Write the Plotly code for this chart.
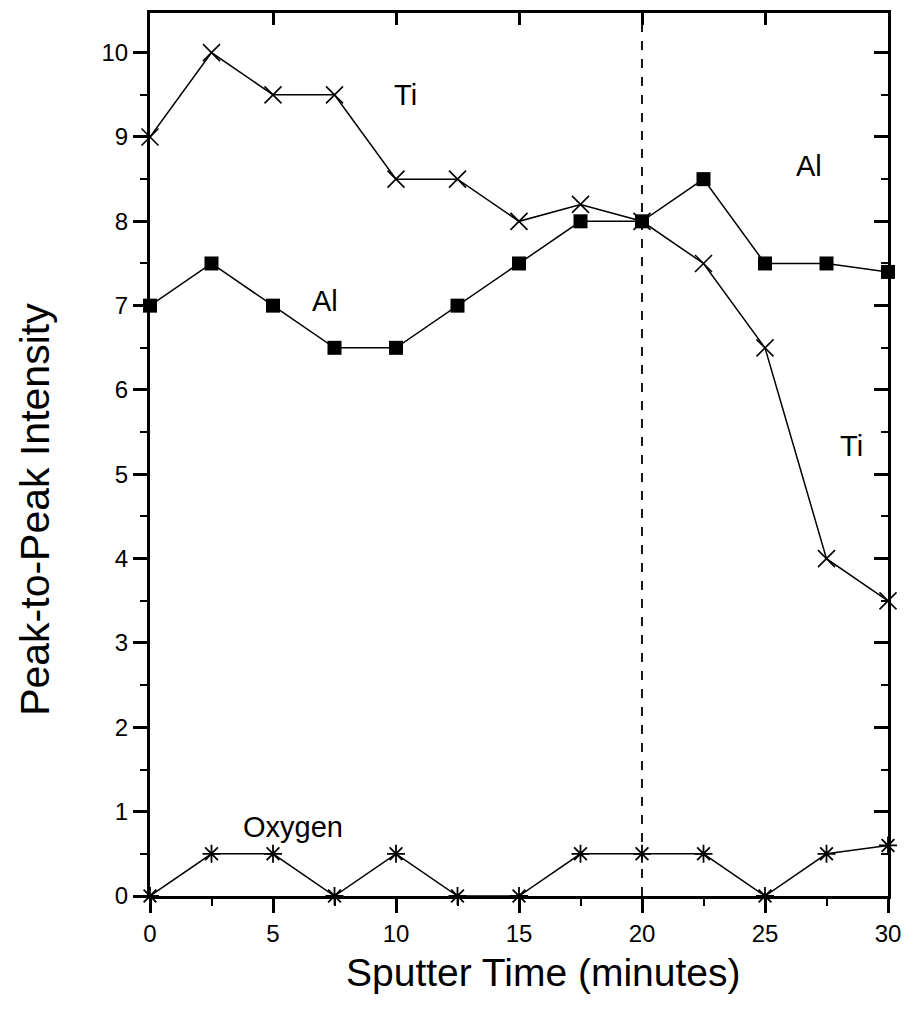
import plotly.graph_objects as go

time = [0, 2.5, 5, 7.5, 10, 12.5, 15, 17.5, 20, 22.5, 25, 27.5, 30]
ti = [9.0, 10.0, 9.5, 9.5, 8.5, 8.5, 8.0, 8.2, 8.0, 7.5, 6.5, 4.0, 3.5]
al = [7.0, 7.5, 7.0, 6.5, 6.5, 7.0, 7.5, 8.0, 8.0, 8.5, 7.5, 7.5, 7.4]
oxygen = [0.0, 0.5, 0.5, 0.0, 0.5, 0.0, 0.0, 0.5, 0.5, 0.5, 0.0, 0.5, 0.6]

labels = [("Ti", 10.4, 9.5), ("Al", 26.8, 8.65), ("Al", 7.1, 7.05),
          ("Ti", 28.5, 5.33), ("Oxygen", 5.8, 0.82)]
divider_x = 20
x_title = "Sputter Time (minutes)"
y_title = "Peak-to-Peak Intensity"

FONT = "Liberation Sans, Arial, Helvetica, sans-serif"
fig = go.Figure()
line = dict(color="black", width=1.5)
fig.add_trace(go.Scatter(x=time, y=ti, mode="lines+markers", line=line, cliponaxis=False,
                         marker=dict(symbol="x-thin-open", size=17, color="black",
                                     line=dict(color="black", width=1.6))))
fig.add_trace(go.Scatter(x=time, y=al, mode="lines+markers", line=line, cliponaxis=False,
                         marker=dict(symbol="square", size=14, color="black")))
fig.add_trace(go.Scatter(x=time, y=oxygen, mode="lines+markers", line=line, cliponaxis=False,
                         marker=dict(symbol="asterisk-open", size=15, color="black",
                                     line=dict(color="black", width=1.8))))

fig.add_shape(type="line", x0=divider_x, x1=divider_x, y0=0, y1=1, yref="paper",
              line=dict(color="black", width=1.8, dash="dash"))

for t, x, y in labels:
    fig.add_annotation(x=x, y=y, text=t, showarrow=False,
                       font=dict(family=FONT, size=29, color="black"))

fig.add_annotation(x=0.532, y=-0.087, xref="paper", yref="paper", text=x_title,
                   xanchor="center", yanchor="middle",
                   showarrow=False, font=dict(family=FONT, size=39, color="black"))
fig.add_annotation(x=-0.155, y=0.438, xref="paper", yref="paper", text=y_title,
                   xanchor="center", yanchor="middle",
                   textangle=-90, showarrow=False, font=dict(family=FONT, size=41, color="black"))

xr = [0, 30]
yr = [0, 10.47]
fig.update_layout(
    width=913, height=1013,
    margin=dict(l=150, r=21, t=13, b=117),
    plot_bgcolor="white", paper_bgcolor="white",
    showlegend=False,
    font=dict(family=FONT, color="black"),
    xaxis=dict(range=xr, showgrid=False, zeroline=False, showline=True, linecolor="black",
               linewidth=3, ticks="outside", ticklen=14, tickwidth=2.5, tickcolor="black",
               dtick=5, tick0=0, tickfont=dict(size=24, family=FONT),
               minor=dict(ticks="outside", ticklen=7, tickwidth=2, dtick=2.5, tickcolor="black")),
    yaxis=dict(range=yr, showgrid=False, zeroline=False, showline=True, linecolor="black",
               linewidth=3, ticks="outside", ticklen=14, tickwidth=2.5, tickcolor="black",
               dtick=1, tick0=0, tickfont=dict(size=24, family=FONT),
               minor=dict(ticks="outside", ticklen=7, tickwidth=2, dtick=0.5, tickcolor="black")),
    xaxis2=dict(range=xr, overlaying="x", side="top", showgrid=False, zeroline=False,
                showline=True, linecolor="black", linewidth=3, ticks="inside", ticklen=12,
                tickwidth=2.5, tickcolor="black", dtick=5, tick0=0, showticklabels=False),
    yaxis2=dict(range=yr, overlaying="y", side="right", showgrid=False, zeroline=False,
                showline=True, linecolor="black", linewidth=3, ticks="inside", ticklen=14,
                tickwidth=2.5, tickcolor="black", dtick=1, tick0=0, showticklabels=False,
                minor=dict(ticks="inside", ticklen=7, tickwidth=2, dtick=0.5, tickcolor="black")),
)
fig.add_trace(go.Scatter(x=[None], y=[None], xaxis="x2", yaxis="y2", showlegend=False))

fig.write_html("out.html")
